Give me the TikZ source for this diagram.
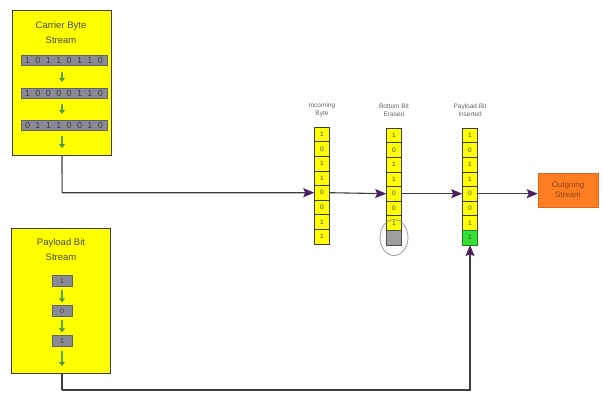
\documentclass[tikz,border=0pt]{standalone}
\usepackage{fontspec}
\setmainfont{Liberation Sans}
\usetikzlibrary{arrows.meta,calc}

\definecolor{boxyellow}{HTML}{FFFF00}
\definecolor{bargrey}{HTML}{8A8A96}
\definecolor{headpurple}{HTML}{4B1D63}
\definecolor{linegrey}{HTML}{3C3C3C}
\definecolor{outorange}{HTML}{FF7D22}
\definecolor{bitgreen}{HTML}{33E033}
\definecolor{titleink}{HTML}{4A4A1E}
\definecolor{flowgreen}{HTML}{6CCB6C}

\tikzset{
  streambox/.style={draw=linegrey, line width=1.2pt, fill=boxyellow, anchor=north west,
    minimum width=99pt, minimum height=145pt, inner sep=0pt},
  boxtitle/.style={align=center, text=titleink, font=\fontsize{9.5}{15}\selectfont, inner sep=0pt},
  bytebar/.style={fill=bargrey, draw=bargrey!70!black, line width=0.3pt, minimum width=86pt,
    minimum height=10pt, inner sep=0pt},
  bitsq/.style={fill=bargrey, draw=bargrey!70!black, line width=0.3pt, minimum width=20pt,
    minimum height=11pt, inner sep=0pt, text=black!75, font=\fontsize{7}{8}\selectfont},
  bitdigit/.style={inner sep=0pt, text=black!75, font=\fontsize{9}{10}\selectfont},
  bitflow/.style={draw=flowgreen!80!black, line width=1.6pt,
    -{Triangle[length=4pt,width=6pt,fill=flowgreen,color=flowgreen!70!black]}},
  cell/.style={draw=linegrey, line width=0.6pt, fill=boxyellow, minimum width=15pt,
    minimum height=14.6pt, inner sep=0pt, text=black!75, font=\fontsize{6.5}{7}\selectfont},
  coltitle/.style={align=center, text=black!60, font=\fontsize{6.5}{8.5}\selectfont, inner sep=0pt},
  link/.style={draw=linegrey, line width=1.1pt,
    -{Stealth[length=11pt,width=9pt,inset=2pt,color=headpurple]}},
  feed/.style={draw=linegrey, line width=1.1pt}
}

\begin{document}
\begin{tikzpicture}[x=1pt,y=-1pt]
\useasboundingbox (0,0) rectangle (603,392);

% ---- carrier byte stream ----
\node[streambox] (carrier) at (12,10) {};
\node[boxtitle] (carriertitle) at (61,33) {Carrier Byte\\Stream};
\node[bytebar] (byteA) at (64,60) {};
\node[bytebar] (byteB) at (64,93) {};
\node[bytebar] (byteC) at (64,125) {};
\foreach \b [count=\i] in {1,0,1,1,0,1,1,0}
  \node[bitdigit] (byteA\i) at ({64+(\i-4.5)*10.4},60) {\b};
\foreach \b [count=\i] in {1,0,0,0,0,1,1,0}
  \node[bitdigit] (byteB\i) at ({64+(\i-4.5)*10.4},93) {\b};
\foreach \b [count=\i] in {0,1,1,1,0,0,1,0}
  \node[bitdigit] (byteC\i) at ({64+(\i-4.5)*10.4},125) {\b};
\coordinate (carrierend) at (62,148);
\draw[bitflow, shorten <=7pt, shorten >=6pt] (byteA.south -| carrierend) -- (byteB.north -| carrierend);
\draw[bitflow, shorten <=6pt, shorten >=6pt] (byteB.south -| carrierend) -- (byteC.north -| carrierend);
\draw[bitflow, shorten <=6pt] (byteC.south -| carrierend) -- (carrierend);

% ---- payload bit stream ----
\node[streambox] (payload) at (11,228) {};
\node[boxtitle] (payloadtitle) at (61,250) {Payload Bit\\Stream};
\node[bitsq] (bitA) at (62,281) {1};
\node[bitsq] (bitB) at (62,311) {0};
\node[bitsq] (bitC) at (62,341) {1};
\coordinate (payloadend) at (62,366);
\draw[bitflow, shorten <=3pt, shorten >=3pt] (bitA.south) -- (bitB.north);
\draw[bitflow, shorten <=3pt, shorten >=3pt] (bitB.south) -- (bitC.north);
\draw[bitflow, shorten <=4pt] (bitC.south) -- (payloadend);

% ---- incoming byte column ----
\node[coltitle] (intitle) at (322,110) {Incoming\\Byte};
\foreach \b [count=\i] in {1,0,1,1,0,0,1,1}
  \node[cell] (in\i) at (322,{127+(\i-0.5)*14.6}) {\b};

% ---- bottom bit erased column ----
\node[coltitle] (ertitle) at (394,110) {Bottom Bit\\Erased};
\foreach \b [count=\i] in {1,0,1,1,0,0,1}
  \node[cell] (er\i) at (394,{128+(\i-0.5)*14.6}) {\b};
\node[cell, fill=gray!75, draw=gray!60!black] (er8) at (394,{128+7.5*14.6}) {};
\draw[gray!80, line width=0.8pt] (er8) ellipse (14pt and 18pt);

% ---- payload bit inserted column ----
\node[coltitle] (instit) at (470,110) {Payload Bit\\Inserted};
\foreach \b [count=\i] in {1,0,1,1,0,0,1}
  \node[cell] (ins\i) at (470,{128+(\i-0.5)*14.6}) {\b};
\node[cell, fill=bitgreen, draw=bitgreen!60!black] (ins8) at (470,{128+7.5*14.6}) {1};

% ---- outgoing stream ----
\node[fill=outorange, draw=outorange!85!black, line width=0.5pt, minimum width=60pt,
  minimum height=34pt, inner sep=0pt, align=center, text=outorange!55!black,
  font=\fontsize{8}{10}\selectfont] (out) at (568,190) {Outgoing\\Stream};

% ---- connectors ----
\coordinate (carrierturn) at (carrier.south |- in5.west);
\draw[link] (carrier.south -| carrierend) -- (carrierturn) -- (in5.west);
\draw[link] (in5.east) -- (er5.west);
\draw[link] (er5.east) -- (ins5.west);
\draw[link] (ins5.east) -- (ins5.east -| out.west);
\coordinate (payloadturn) at (62,390);
\draw[feed] (payload.south -| payloadend) -- (payloadturn);
\draw[link] (payloadturn) -| (ins8.south);
\end{tikzpicture}
\end{document}
